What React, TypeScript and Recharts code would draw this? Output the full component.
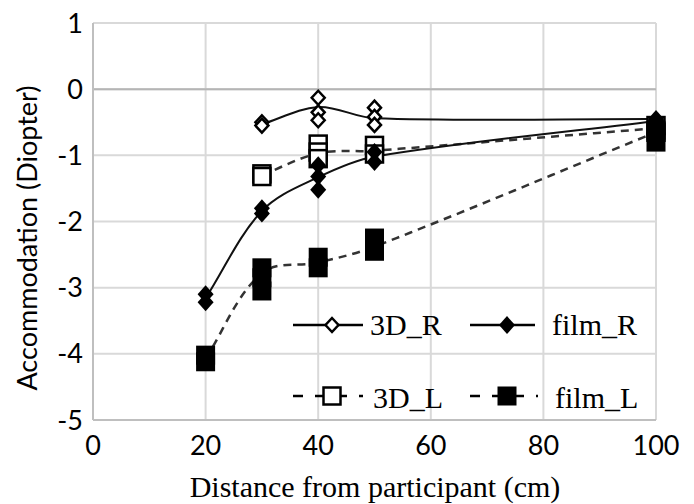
import { ComposedChart, Line, Scatter, XAxis, YAxis, CartesianGrid, Legend, ReferenceLine } from 'recharts';

// distances (cm) where accommodation was measured
const distances = [20, 30, 40, 50, 100];

// individual readings per distance (diopter)
const filmRReadings = [[-3.1, -3.22], [-1.8, -1.88], [-1.15, -1.32, -1.52], [-0.95, -1.1], [-0.45, -0.52]];
const filmLReadings = [[-4.02, -4.12], [-2.7, -2.85, -3.05], [-2.54, -2.7], [-2.25, -2.45], [-0.62, -0.8]];
const d3RReadings = [[], [-0.5, -0.55], [-0.13, -0.35, -0.47], [-0.28, -0.42, -0.54], [-0.47]];
const d3LReadings = [[], [-1.28, -1.32], [-0.83, -0.95, -1.05], [-0.85, -0.98], [-0.55, -0.65]];

// mean line values
const filmRMean = [-3.16, -1.84, -1.33, -1.02, -0.48];
const filmLMean = [-4.07, -2.78, -2.62, -2.38, -0.65];
const d3RMean = [null, -0.53, -0.27, -0.44, -0.45];
const d3LMean = [null, -1.3, -0.97, -0.93, -0.59];

const xTicks = [0, 20, 40, 60, 80, 100];
const yTicks = [-5, -4, -3, -2, -1, 0, 1];

const toPoints = (readings: number[][]) =>
  readings.flatMap((vals, i) => vals.map((y) => ({ x: distances[i], y })));
const toLine = (means: (number | null)[]) =>
  distances.map((x, i) => ({ x, y: means[i] })).filter((p) => p.y !== null);

const sans = "Lato, 'Open Sans', sans-serif";
const serif = "'Liberation Serif', 'Times New Roman', serif";

// smoothed line: tangent from neighbours, handles 1/3 of each segment
const smooth = (context: any) => {
  let pts: number[][] = [];
  const tangent = (i: number) => {
    const a = pts[Math.max(i - 1, 0)];
    const b = pts[Math.min(i + 1, pts.length - 1)];
    const dx = b[0] - a[0];
    const dy = b[1] - a[1];
    const len = Math.hypot(dx, dy) || 1;
    return [dx / len, dy / len];
  };
  return {
    areaStart() {},
    areaEnd() {},
    lineStart() {
      pts = [];
    },
    point(x: number, y: number) {
      pts.push([+x, +y]);
    },
    lineEnd() {
      if (!pts.length) return;
      context.moveTo(pts[0][0], pts[0][1]);
      for (let i = 0; i < pts.length - 1; i++) {
        const p1 = pts[i];
        const p2 = pts[i + 1];
        const L = Math.hypot(p2[0] - p1[0], p2[1] - p1[1]) / 3;
        const t1 = tangent(i);
        const t2 = tangent(i + 1);
        context.bezierCurveTo(p1[0] + t1[0] * L, p1[1] + t1[1] * L, p2[0] - t2[0] * L, p2[1] - t2[1] * L, p2[0], p2[1]);
      }
    },
  };
};

const OpenDiamond = ({ cx, cy }: any) => (
  <path d={`M${cx},${cy - 7} L${cx + 6.5},${cy} L${cx},${cy + 7} L${cx - 6.5},${cy} Z`} fill="#fff" stroke="#000" strokeWidth={2.5} />
);
const FilledDiamond = ({ cx, cy }: any) => (
  <path d={`M${cx},${cy - 9} L${cx + 8},${cy} L${cx},${cy + 9} L${cx - 8},${cy} Z`} fill="#000" />
);
const OpenSquare = ({ cx, cy }: any) => (
  <rect x={cx - 8.5} y={cy - 8.5} width={17} height={17} fill="#fff" stroke="#000" strokeWidth={2.5} />
);
const FilledSquare = ({ cx, cy }: any) => <rect x={cx - 9.5} y={cy - 9.5} width={19} height={19} fill="#000" />;

const renderLegend = () => (
  <svg width={380} height={120} style={{ fontFamily: serif, fontSize: 30 }}>
    <line x1={8} x2={78} y1={25} y2={25} stroke="#000" strokeWidth={2.5} />
    <OpenDiamond cx={47} cy={25} />
    <text x={85} y={35}>3D_R</text>
    <line x1={185} x2={250} y1={25} y2={25} stroke="#000" strokeWidth={2.5} />
    <FilledDiamond cx={222} cy={25} />
    <text x={267} y={35}>film_R</text>
    <line x1={8} x2={78} y1={96} y2={96} stroke="#000" strokeWidth={2.5} strokeDasharray="10 12" />
    <OpenSquare cx={47} cy={96} />
    <text x={88} y={108}>3D_L</text>
    <line x1={185} x2={253} y1={96} y2={96} stroke="#000" strokeWidth={2.5} strokeDasharray="10 12" />
    <FilledSquare cx={222} cy={96} />
    <text x={270} y={108}>film_L</text>
  </svg>
);

export default function App() {
  return (
    <div style={{ margin: '-8px 0 0 -8px', width: 694, height: 504 }}>
      <ComposedChart width={694} height={504} margin={{ top: 23, right: 38, bottom: 0, left: 0 }}>
        <CartesianGrid stroke="#d9d9d9" strokeWidth={2} />
        <XAxis
          type="number"
          dataKey="x"
          domain={[0, 100]}
          ticks={xTicks}
          height={84}
          tickLine={false}
          tickMargin={10}
          axisLine={{ stroke: '#bfbfbf', strokeWidth: 2 }}
          tick={{ fill: '#000', fontSize: 27, fontFamily: sans }}
          label={{
            content: () => (
              <text x={375} y={497} textAnchor="middle" fontFamily={serif} fontSize={30} fill="#000">
                Distance from participant (cm)
              </text>
            ),
          }}
        />
        <YAxis
          type="number"
          dataKey="y"
          domain={[-5, 1]}
          ticks={yTicks}
          width={93}
          tickLine={false}
          tickMargin={4}
          axisLine={{ stroke: '#bfbfbf', strokeWidth: 2 }}
          tick={{ fill: '#000', fontSize: 27, fontFamily: sans }}
          label={{
            content: () => (
              <text x={37} y={238} transform="rotate(-90 37 238)" textAnchor="middle" fontFamily={sans} fontSize={27} fill="#000">
                Accommodation (Diopter)
              </text>
            ),
          }}
        />
        <ReferenceLine y={0} stroke="#b5b5b5" strokeWidth={2} />
        <Legend layout="vertical" align="center" verticalAlign="middle" wrapperStyle={{ left: 285, top: 300, width: 380 }} content={renderLegend} />
        {/* smoothed mean lines */}
        <Line data={toLine(filmLMean)} dataKey="y" type={smooth as any} stroke="#333" strokeWidth={2.5} strokeDasharray="8 6" dot={false} isAnimationActive={false} />
        <Line data={toLine(d3LMean)} dataKey="y" type={smooth as any} stroke="#333" strokeWidth={2.5} strokeDasharray="8 6" dot={false} isAnimationActive={false} />
        <Line data={toLine(filmRMean)} dataKey="y" type={smooth as any} stroke="#111" strokeWidth={2} dot={false} isAnimationActive={false} />
        <Line data={toLine(d3RMean)} dataKey="y" type={smooth as any} stroke="#111" strokeWidth={2} dot={false} isAnimationActive={false} />
        {/* individual readings */}
        <Scatter data={toPoints(d3LReadings)} dataKey="y" shape={OpenSquare} isAnimationActive={false} />
        <Scatter data={toPoints(d3RReadings)} dataKey="y" shape={OpenDiamond} isAnimationActive={false} />
        <Scatter data={toPoints(filmLReadings)} dataKey="y" shape={FilledSquare} isAnimationActive={false} />
        <Scatter data={toPoints(filmRReadings)} dataKey="y" shape={FilledDiamond} isAnimationActive={false} />
      </ComposedChart>
    </div>
  );
}
